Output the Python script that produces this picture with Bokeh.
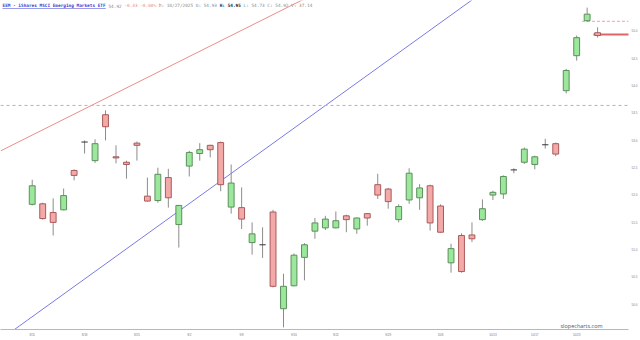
from bokeh.plotting import figure
from bokeh.models import Range1d, FixedTicker, Span, Label, BoxAnnotation, PrintfTickFormatter
from bokeh.embed import file_html
from bokeh.resources import INLINE

# ---------------- data ----------------
opens = [51.82, 51.83, 51.67, 51.72, 52.44, 52.96, 52.62, 53.46, 52.69, 52.59, 52.94, 51.97, 51.89, 52.31, 51.45,
         52.52, 52.75, 52.90, 52.95, 51.77, 51.76, 51.12, 51.08, 51.68, 49.91, 50.33, 50.85, 51.33, 51.39, 51.39,
         51.61, 51.37, 51.65, 52.18, 52.10, 51.54, 51.90, 51.94, 52.16, 51.79, 50.75, 51.25, 51.26, 51.54, 51.99,
         52.01, 52.45, 52.59, 52.55, 52.91, 52.93, 53.90, 54.54, 55.18, 54.96]
closes = [52.16, 51.56, 51.49, 51.98, 52.35, 52.96, 52.93, 53.24, 52.67, 52.55, 52.90, 51.88, 52.37, 51.94, 51.80,
          52.77, 52.82, 52.82, 52.18, 52.21, 51.55, 51.28, 51.08, 50.32, 50.32, 50.89, 51.08, 51.48, 51.55, 51.52,
          51.54, 51.57, 51.57, 51.99, 51.87, 51.78, 52.39, 52.12, 51.48, 51.31, 51.01, 50.59, 51.19, 51.74, 52.04,
          52.33, 52.45, 52.83, 52.69, 52.91, 52.74, 54.27, 54.87, 55.30, 54.91]
highs = [52.27, 51.85, 51.93, 52.11, 52.46, 52.99, 53.01, 53.54, 52.90, 52.62, 52.97, 52.31, 52.49, 52.47, 51.81,
         52.80, 52.94, 52.91, 52.97, 52.55, 52.13, 51.49, 51.40, 51.72, 50.55, 50.92, 51.11, 51.57, 51.61, 51.69,
         51.63, 51.58, 51.66, 52.38, 52.12, 51.82, 52.48, 52.19, 52.18, 51.82, 51.10, 51.29, 51.49, 51.91, 52.07,
         52.35, 52.48, 52.86, 52.71, 53.02, 52.95, 54.30, 54.91, 55.42, 55.06]
lows = [51.80, 51.54, 51.25, 51.71, 52.26, 52.75, 52.58, 52.99, 52.57, 52.29, 52.62, 51.87, 51.85, 51.76, 51.03,
        52.33, 52.62, 52.68, 52.06, 51.65, 51.37, 50.90, 50.84, 50.30, 49.57, 50.32, 50.43, 51.19, 51.35, 51.38,
        51.31, 51.28, 51.43, 51.92, 51.74, 51.49, 51.83, 51.72, 51.34, 51.30, 50.57, 50.57, 51.13, 51.52, 51.90,
        51.92, 52.39, 52.56, 52.46, 52.84, 52.70, 53.85, 54.45, 55.16, 54.87]

x_tick_idx = [0, 5, 10, 15, 20, 25, 29, 34, 39, 44, 48, 52]
x_tick_labels = ["8/11", "8/18", "8/25", "9/2", "9/9", "9/16", "9/22", "9/29", "10/6", "10/13", "10/17", "10/23"]
y_ticks = [50.0, 50.5, 51.0, 51.5, 52.0, 52.5, 53.0, 53.5, 54.0, 54.5, 55.0]

# drawn annotations (price levels and trend lines)
level_dashed = 53.63
level_prev = 55.17
last_price = 54.93
red_trend_x = [-3.0, 26.0]
red_trend_y = [52.80, 55.58]
blue_trend_x = [-3.0, 42.0]
blue_trend_y = [49.35, 55.56]

title_parts = [
    ("EEM - iShares MSCI Emerging Markets ETF", "#3a3ad0", "bold"),
    (" 54.92", "#8a8a8a", "normal"),
    (" -0.33 -0.60%", "#e38a8a", "normal"),
    (" D: 10/27/2025 O: 54.93 ", "#8a8a8a", "normal"),
    ("H: 54.95", "#222222", "bold"),
    (" L: 54.73 C: 54.92 V: 37.14", "#8a8a8a", "normal"),
]

# ---------------- figure ----------------
n = len(opens)
idx = list(range(n))
p = figure(width=640, height=340, output_backend="svg", toolbar_location=None,
           x_range=Range1d(-3.03, 56.95), y_range=Range1d(49.53, 55.55),
           y_axis_location="right", min_border_left=0, min_border_top=0,
           min_border_right=8, min_border_bottom=11)
p.outline_line_color = None
p.xgrid.visible = False
p.ygrid.visible = False
p.background_fill_color = "white"

# axes
p.yaxis.ticker = FixedTicker(ticks=y_ticks)
p.yaxis.formatter = PrintfTickFormatter(format="%.1f")
p.yaxis.axis_line_color = None
p.yaxis.major_tick_line_color = None
p.yaxis.minor_tick_line_color = None
p.yaxis.major_tick_out = 0
p.yaxis.major_tick_in = 0
p.yaxis.minor_tick_out = 0
p.yaxis.minor_tick_in = 0
p.yaxis.major_label_text_font_size = "3px"
p.yaxis.major_label_text_color = "#777777"
p.yaxis.major_label_standoff = 3

p.xaxis.ticker = FixedTicker(ticks=x_tick_idx)
p.xaxis.major_label_overrides = {i: s for i, s in zip(x_tick_idx, x_tick_labels)}
p.xaxis.axis_line_color = "#b8b8b8"
p.xaxis.major_tick_line_color = None
p.xaxis.minor_tick_line_color = None
p.xaxis.major_tick_out = 0
p.xaxis.major_tick_in = 0
p.xaxis.minor_tick_out = 0
p.xaxis.minor_tick_in = 0
p.xaxis.major_label_text_font_size = "3px"
p.xaxis.major_label_text_color = "#777777"
p.xaxis.major_label_standoff = 4

# reference lines
p.add_layout(Span(location=level_dashed, dimension="width", line_color="#b3a9e3",
                  line_dash="3 3", line_width=1))
p.line(red_trend_x, red_trend_y, line_color="#ec8c8c", line_width=1)
p.line(blue_trend_x, blue_trend_y, line_color="#7a7ae6", line_width=1)
p.line([52.5, 60], [level_prev, level_prev], line_color="#f0a0a0", line_dash="3 2", line_width=1)
p.line([53.6, 60], [last_price, last_price], line_color="#e06666", line_width=2)

# candles
up = [i for i in idx if closes[i] > opens[i]]
dn = [i for i in idx if closes[i] < opens[i]]
dj = [i for i in idx if closes[i] == opens[i]]

p.segment(x0=idx, x1=idx, y0=lows, y1=highs, line_color="#8c8c8c", line_width=1)
p.vbar(x=up, width=0.56, bottom=[opens[i] for i in up], top=[closes[i] for i in up],
       fill_color="#9be79b", line_color="#5c8f5c", line_width=1)
p.vbar(x=dn, width=0.56, bottom=[closes[i] for i in dn], top=[opens[i] for i in dn],
       fill_color="#f4a9a9", line_color="#a85a5a", line_width=1)
p.segment(x0=[i - 0.3 for i in dj], x1=[i + 0.3 for i in dj], y0=[opens[i] for i in dj],
          y1=[opens[i] for i in dj], line_color="#333333", line_width=1)

# title (screen units measured from the frame's bottom-left corner)
fs = 4.4
cw = fs * 0.602
x0 = 2
for text, color, weight in title_parts:
    lead = len(text) - len(text.lstrip(" "))
    core = text.strip(" ")
    p.add_layout(Label(x=x0 + lead * cw, y=324, x_units="screen", y_units="screen", text=core,
                       text_font="DejaVu Sans Mono", text_font_size=f"{fs}px", text_color=color,
                       text_font_style=weight, text_baseline="middle"))
    x0 += len(text) * cw
p.add_layout(BoxAnnotation(left=2, right=2 + len(title_parts[0][0]) * cw, top=321.6, bottom=321.1,
                           left_units="screen", right_units="screen", top_units="screen",
                           bottom_units="screen", fill_color="#3a3ad0", fill_alpha=1, line_color=None))

p.add_layout(Label(x=560, y=4, x_units="screen", y_units="screen", text="slopecharts.com",
                   text_font="Open Sans", text_font_size="5.5px", text_color="#555555",
                   text_baseline="middle"))

open("out.html", "w").write(file_html(p, INLINE))
